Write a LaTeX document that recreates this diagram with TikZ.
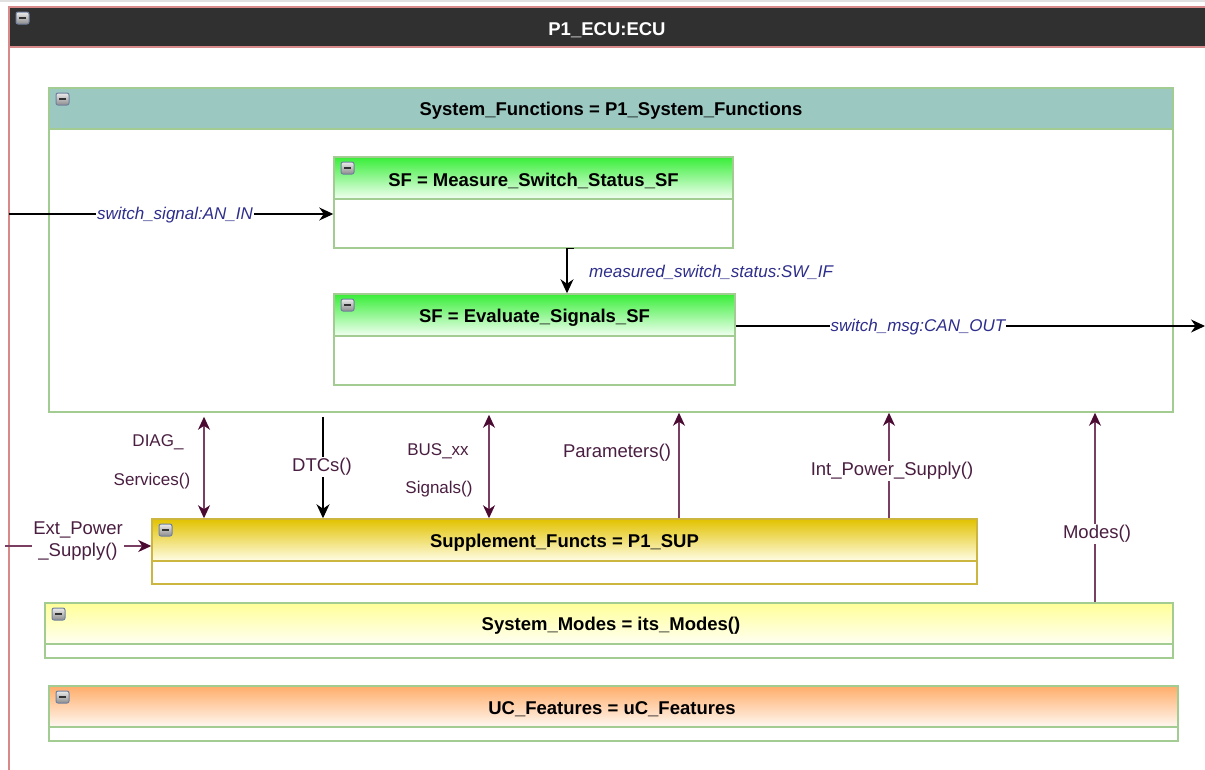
\documentclass[tikz,border=0pt]{standalone}
\usepackage{fontspec}
\setmainfont{Liberation Sans}
\usetikzlibrary{arrows.meta,fit,calc}
\definecolor{ecured}{HTML}{D88A8A}
\definecolor{ecudark}{HTML}{303030}
\definecolor{sysfill}{HTML}{9BC8C0}
\definecolor{gborder}{HTML}{A3CC92}
\definecolor{yborder}{HTML}{CDB640}
\definecolor{sftop}{HTML}{38EE38}
\definecolor{sfbot}{HTML}{F2FFF2}
\definecolor{suptop}{HTML}{E2C200}
\definecolor{supbot}{HTML}{FFFDE6}
\definecolor{modtop}{HTML}{FFFF99}
\definecolor{modbot}{HTML}{FFFFF2}
\definecolor{uctop}{HTML}{FFAD6A}
\definecolor{ucbot}{HTML}{FFF8F2}
\definecolor{marline}{HTML}{7A3E62}
\definecolor{martipc}{HTML}{4A0A32}
\definecolor{lblcol}{HTML}{4A1E40}
\definecolor{ilblcol}{HTML}{2E2E8C}
\definecolor{iconline}{HTML}{7080A0}
\tikzset{
  MT/.tip={Stealth[length=13pt,width=12pt,inset=4pt,color=martipc]},
  BT/.tip={Stealth[length=14pt,width=13pt,inset=4.5pt]},
  boxtitle/.style={font=\fontsize{18.5}{22}\selectfont\bfseries, text=black, inner sep=0pt},
  lbl/.style={font=\fontsize{18.5}{22}\selectfont, text=lblcol, inner sep=1.5pt},
  slbl/.style={font=\fontsize{17}{20}\selectfont, text=lblcol, inner sep=1pt},
  ilbl/.style={font=\fontsize{17}{20}\selectfont\itshape, text=ilblcol, fill=white, inner sep=1pt},
  blk/.style={draw=black, line width=1.1pt, -BT},
  mar/.style={draw=marline, line width=1.3pt},
  iconbox/.style={draw=iconline, line width=1pt, rounded corners=2pt, top color=black!8, bottom color=black!45}
}
\newcommand\umlicon[1]{%
  \draw[iconbox] (#1) rectangle ++(13,12);
  \draw[line width=2pt, black!80] ($(#1)+(3,6)$) -- ++(7,0);}
% #1 name #2 x1 #3 y1 #4 x2 #5 y2 #6 header bottom #7 top colour #8 bottom colour #9 border colour
\newcommand\umlbox[9]{%
  \shade[top color=#7, bottom color=#8] (#2,#3) rectangle (#4,#6);
  \draw[draw=#9, line width=1.2pt] (#2,#6) -- (#4,#6);
  \node[draw=#9, line width=1.5pt, fit={(#2,#3) (#4,#5)}, inner sep=0pt] (#1) {};
  \umlicon{$(#2,#3)+(7,5)$}}
\begin{document}
\begin{tikzpicture}[x=1pt,y=-1pt]
\useasboundingbox (0,0) rectangle (1205,769);
\fill[black!12] (0,0) rectangle (1205,1.5);
% outer ECU
\fill[ecudark] (9,7) rectangle (1215,47);
\node[draw=ecured, line width=1.5pt, fit={(9,7) (1220,790)}, inner sep=0pt] (ecu) {};
\draw[ecured, line width=1.2pt] (9,47) -- (1215,47);
\node[boxtitle, text=white] (ecut) at (607,30) {P1\_ECU:ECU};
\umlicon{16,12}
% System functions
\umlbox{sys}{49}{88}{1173}{412}{129}{sysfill}{sysfill}{gborder}
\node[boxtitle] (syst) at (611,111) {System\_Functions = P1\_System\_Functions};
\umlbox{sfa}{334}{157}{733}{248}{199}{sftop}{sfbot}{gborder}
\node[boxtitle] (sfat) at (533.5,181) {SF = Measure\_Switch\_Status\_SF};
\umlbox{sfb}{334}{294}{735}{385}{336}{sftop}{sfbot}{gborder}
\node[boxtitle] (sfbt) at (534.5,318) {SF = Evaluate\_Signals\_SF};
\umlbox{sup}{152}{519}{977}{584}{561}{suptop}{supbot}{yborder}
\node[boxtitle] (supt) at (564.5,543) {Supplement\_Functs = P1\_SUP};
\umlbox{modes}{45}{603}{1173}{658}{644}{modtop}{modbot}{gborder}
\node[boxtitle] (modest) at (611,626) {System\_Modes = its\_Modes()};
\umlbox{uc}{49}{686}{1178}{741}{727}{uctop}{ucbot}{gborder}
\node[boxtitle] (uct) at (612,709) {UC\_Features = uC\_Features};
% signal flows
\coordinate (in1) at (9,214);
\draw[blk] (in1) -- (in1 -| sfa.west);
\node[ilbl] (l1) at (175,215) {switch\_signal:AN\_IN};
\coordinate (xm) at (567,0);
\draw[blk] ($(xm |- sfa.south)+(7,0)$) -- (xm |- sfa.south) -- (xm |- sfb.north);
\node[ilbl, anchor=west] (l2) at (588,272) {measured\_switch\_status:SW\_IF};
\coordinate (out1) at (1205,326);
\draw[blk] (out1 -| sfb.east) -- (out1);
\node[ilbl] (l3) at (918,327) {switch\_msg:CAN\_OUT};
% interfaces between supplement and system functions
\coordinate (xd) at (204,0);
\draw[mar, MT-MT, shorten <=4pt] (xd |- sys.south) -- (xd |- sup.north);
\node[slbl] (ld1) at (158,442) {DIAG\_};
\node[slbl] (ld2) at (152,481) {Services()};
\coordinate (xt) at (323,0);
\draw[blk, shorten <=4pt] (xt |- sys.south) -- (xt |- sup.north);
\node[lbl, fill=white] (lt) at (322,467) {DTCs()};
\coordinate (xb) at (489,0);
\draw[mar, MT-MT, shorten <=2pt] (xb |- sys.south) -- (xb |- sup.north);
\node[slbl] (lb1) at (438,451) {BUS\_xx};
\node[slbl] (lb2) at (439,489) {Signals()};
\coordinate (xp) at (679,0);
\draw[mar, -MT] (xp |- sup.north) -- (xp |- sys.south);
\node[lbl] (lp) at (617,453) {Parameters()};
\coordinate (xi) at (889,0);
\draw[mar, -MT] (xi |- sup.north) -- (xi |- sys.south);
\node[lbl, fill=white] (li) at (892,471) {Int\_Power\_Supply()};
\coordinate (xo) at (1095,0);
\draw[mar, -MT] (xo |- modes.north) -- (xo |- sys.south);
\node[lbl, fill=white] (lo) at (1097,534) {Modes()};
\coordinate (ext) at (5,546);
\draw[mar, -MT] (ext) -- (ext -| sup.west);
\node[lbl, fill=white, align=center] (le) at (78,541) {Ext\_Power\\\_Supply()};
\end{tikzpicture}
\end{document}
